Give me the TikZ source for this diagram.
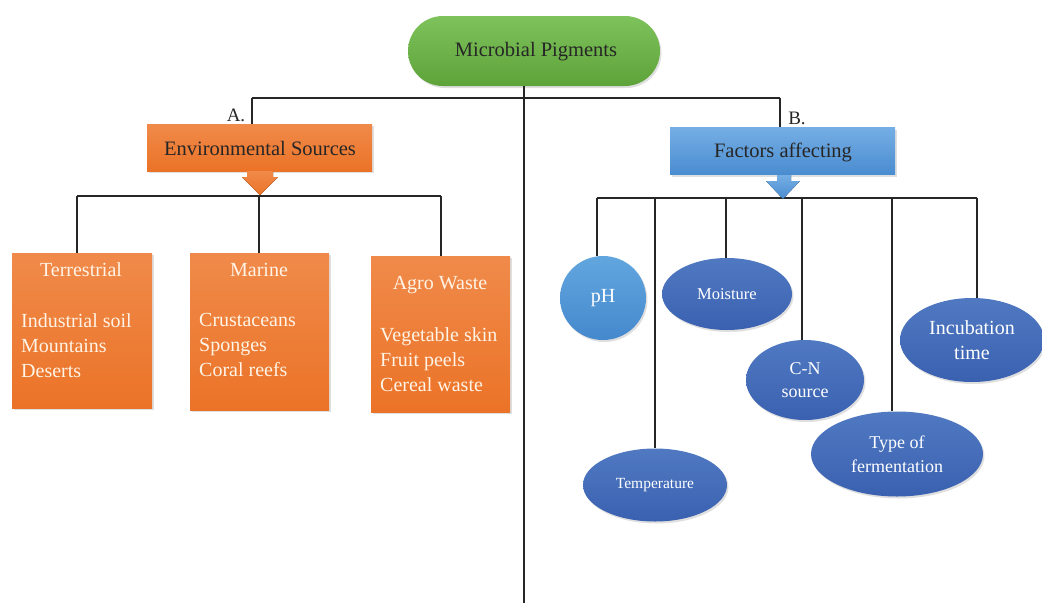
\documentclass[tikz,border=0pt]{standalone}
\usepackage{fontspec}
\setmainfont{Liberation Serif}
\usetikzlibrary{shadows,shapes.geometric}
\definecolor{greenT}{HTML}{7DC25A}
\definecolor{greenB}{HTML}{5EA23A}
\definecolor{orT}{HTML}{F08A4A}
\definecolor{orB}{HTML}{EB7327}
\definecolor{blT}{HTML}{75AEE4}
\definecolor{blB}{HTML}{4A8CD0}
\definecolor{elT}{HTML}{5079C2}
\definecolor{elB}{HTML}{3A61B0}
\definecolor{phT}{HTML}{62A6DF}
\definecolor{phB}{HTML}{4589CD}
\definecolor{cream}{HTML}{FFF4E6}
\begin{document}
\begin{tikzpicture}[x=1pt,y=-1pt,
  conn/.style={draw=black!85, line width=1.3pt},
  shd/.style={drop shadow={opacity=0.25, shadow xshift=1.5pt, shadow yshift=-2pt}},
  pill/.style={shd, rounded corners=35pt, shade, top color=greenT, bottom color=greenB, minimum width=252pt, minimum height=70pt, inner sep=0pt},
  hbox/.style={shd, shade, top color=#1T, bottom color=#1B, minimum width=225pt, minimum height=47pt, inner sep=0pt},
  obox/.style={shd, shade, top color=orT, bottom color=orB, anchor=north west, inner sep=0pt},
  otext/.style={text=cream, font=\fontsize{20}{25}\selectfont, inner sep=0pt},
  dtext/.style={text=black!85, font=\fontsize{20.5}{24}\selectfont, inner sep=0pt},
  fell/.style={ellipse, shd, shade, top color=elT, bottom color=elB, inner sep=0pt, text=white, align=center},
  arr/.style={shade, top color=#1T, bottom color=#1B}
]
\useasboundingbox (0,0) rectangle (1042,603);

% top
\node[pill] (top) at (534,51) {};
\node[dtext] (topT) at (536,52) {Microbial Pigments};

% main lines
\coordinate (mtop) at (524,86);
\coordinate (mbot) at (524,603);
\coordinate (aL) at (252,98);
\coordinate (bR) at (780,98);
\draw[conn] (mtop) -- (mbot);
\draw[conn] (aL) -- (bR);

% headers
\node[hbox=or] (env) at (259.5,147.5) {};
\node[dtext] (envT) at (260,148) {Environmental Sources};
\node[hbox=bl] (fac) at (782.5,151) {};
\node[dtext] (facT) at (783,152) {Factors affecting};
\draw[conn] (aL) -- (aL |- env.north);
\draw[conn] (bR) -- (bR |- fac.north);
\node[dtext, font=\fontsize{19}{22}\selectfont] (labA) at (236,115) {A.};
\node[dtext, font=\fontsize{19}{22}\selectfont] (labB) at (797,118) {B.};

% left sub-tree bar
\coordinate (lb1) at (77,196);
\coordinate (lb2) at (259,196);
\coordinate (lb3) at (441,196);
\draw[conn] (lb1) -- (lb3);
\fill[arr=or] (247,171) -- (273,171) -- (273,177) -- (278,177) -- (260,195) -- (242,177) -- (247,177) -- cycle;

% orange boxes
\node[obox, minimum width=140pt, minimum height=155pt] (terr) at (12,253) {};
\node[obox, minimum width=139pt, minimum height=157pt] (mar) at (190,253) {};
\node[obox, minimum width=139pt, minimum height=156pt] (agro) at (371,256) {};
\draw[conn] (lb1) -- (lb1 |- terr.north);
\draw[conn] (lb2) -- (lb2 |- mar.north);
\draw[conn] (lb3) -- (lb3 |- agro.north);

\node[otext] (terrT) at (81,270) {Terrestrial};
\node[otext, anchor=north west, align=left] (terrI) at (21,313) {Industrial soil\\Mountains\\Deserts};
\node[otext] (marT) at (259,270) {Marine};
\node[otext, anchor=north west, align=left] (marI) at (199,313) {Crustaceans\\Sponges\\Coral reefs};
\node[otext] (agroT) at (440,285) {Agro Waste};
\node[otext, anchor=north west, align=left] (agroI) at (380,327) {Vegetable skin\\Fruit peels\\Cereal waste};

% right sub-tree
\coordinate (r1) at (597,198);
\coordinate (r2) at (655,198);
\coordinate (r3) at (726,198);
\coordinate (r4) at (802,198);
\coordinate (r5) at (892,198);
\coordinate (r6) at (977,198);
\draw[conn] (r1) -- (r6);
\fill[arr=bl] (777,175) -- (791,175) -- (791,181) -- (800,181) -- (783,199) -- (766,181) -- (777,181) -- cycle;

\node[fell, top color=phT, bottom color=phB, minimum width=86pt, minimum height=84pt, font=\fontsize{20}{24}\selectfont] (ph) at (603,298) {pH};
\node[fell, minimum width=144pt, minimum height=73pt, font=\fontsize{15.5}{19}\selectfont] (temp) at (655,485) {Temperature};
\node[fell, minimum width=130pt, minimum height=72pt, font=\fontsize{16.5}{20}\selectfont] (moist) at (727,294) {Moisture};
\node[fell, minimum width=118pt, minimum height=80pt, font=\fontsize{18}{23}\selectfont] (cn) at (805,380) {C-N\\source};
\node[fell, minimum width=172pt, minimum height=85pt, font=\fontsize{18}{24}\selectfont] (ferm) at (897,454) {Type of\\fermentation};
\node[fell, minimum width=144pt, minimum height=84pt, font=\fontsize{20}{25}\selectfont] (incub) at (972,340) {Incubation\\time};

\draw[conn] (r1) -- (r1 |- ph.north);
\draw[conn] (r2) -- (r2 |- temp.north);
\draw[conn] (r3) -- (r3 |- moist.north);
\draw[conn] (r4) -- (r4 |- cn.north);
\draw[conn] (r5) -- (r5 |- ferm.north);
\draw[conn] (r6) -- (r6 |- incub.north);
\end{tikzpicture}
\end{document}
